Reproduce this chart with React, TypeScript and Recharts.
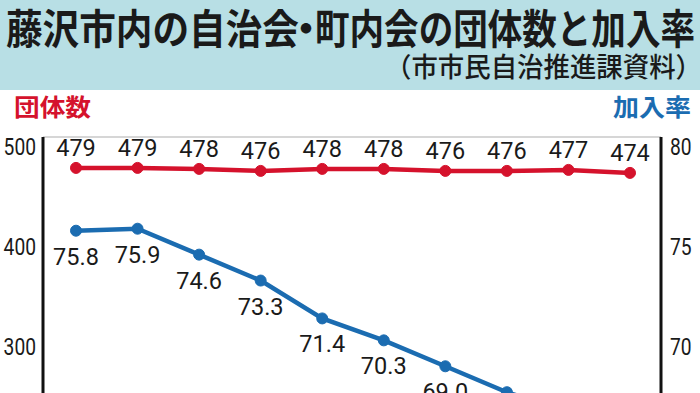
import React from 'react';
import { LineChart, Line, XAxis, YAxis, CartesianGrid } from 'recharts';

const years = ['2012', '2013', '2014', '2015', '2016', '2017', '2018', '2019', '2020', '2021'];
const groupCounts = [479, 479, 478, 476, 478, 478, 476, 476, 477, 474];
const joinRates = [75.8, 75.9, 74.6, 73.3, 71.4, 70.3, 69.0, 67.7, 66.7, 65.9];
const leftTicks = [200, 300, 400, 500];
const rightTicks = [65, 70, 75, 80];

const titleParts = ['藤沢市内の自治会', '・', '町内会の団体数と加入率'];
const subtitle = '（市市民自治推進課資料）';
const leftLabel = '団体数';
const rightLabel = '加入率';

const RED = '#d5122c';
const BLUE = '#1b6cb1';
const NUM_FONT = 'Roboto, "Noto Sans", sans-serif';
const JP_FONT = '"Noto Sans CJK JP", sans-serif';

const data = years.map((y, i) => ({ year: y, count: groupCounts[i], rate: joinRates[i] }));

const AxisTick = (props: any) => {
  const { x, y, payload, anchor } = props;
  const s = String(payload.value);
  return (
    <text
      x={x}
      y={y + 8.5}
      textAnchor={anchor}
      fontSize={23.5}
      fontFamily={NUM_FONT}
      fill="#1a1a1a"
      textLength={s.length * 10.8}
      lengthAdjust="spacingAndGlyphs"
    >
      {s}
    </text>
  );
};

const CountLabel = (props: any) => {
  const { x, y, value } = props;
  return (
    <text x={x} y={y - 12} textAnchor="middle" fontSize={23.5} fontFamily={NUM_FONT} fill="#1a1a1a">
      {value}
    </text>
  );
};

const RateLabel = (props: any) => {
  const { x, y, value } = props;
  return (
    <text x={x} y={y + 34} textAnchor="middle" fontSize={23.5} fontFamily={NUM_FONT} fill="#1a1a1a">
      {Number(value).toFixed(1)}
    </text>
  );
};

export default function App() {
  return (
    <div style={{ position: 'absolute', left: 0, top: 0, width: 700, height: 393, overflow: 'hidden', background: '#fff' }}>
      <LineChart
        width={700}
        height={456}
        data={data}
        margin={{ top: 137, right: 0, bottom: 0, left: 0 }}
      >
        <CartesianGrid horizontal vertical={false} stroke="#c9c9c9" strokeWidth={1.5} />
        <XAxis dataKey="year" hide padding={{ left: 33, right: 31 }} />
        <YAxis
          yAxisId="left"
          orientation="left"
          width={43}
          type="number"
          domain={[190, 510]}
          ticks={leftTicks}
          interval={0}
          allowDataOverflow
          tickLine={false}
          tickSize={0}
          tickMargin={7}
          axisLine={{ stroke: '#111', strokeWidth: 3 }}
          tick={<AxisTick anchor="end" />}
        />
        <YAxis
          yAxisId="right"
          orientation="right"
          width={39}
          type="number"
          domain={[64.5, 80.5]}
          ticks={rightTicks}
          interval={0}
          allowDataOverflow
          tickLine={false}
          tickSize={0}
          tickMargin={9}
          axisLine={{ stroke: '#111', strokeWidth: 3 }}
          tick={<AxisTick anchor="start" />}
        />
        <Line
          yAxisId="right"
          dataKey="rate"
          stroke={BLUE}
          strokeWidth={4.5}
          dot={{ r: 5.5, fill: BLUE, stroke: BLUE, strokeWidth: 1 }}
          isAnimationActive={false}
          label={<RateLabel />}
        />
        <Line
          yAxisId="left"
          dataKey="count"
          stroke={RED}
          strokeWidth={4.5}
          dot={{ r: 5.5, fill: RED, stroke: RED, strokeWidth: 1 }}
          isAnimationActive={false}
          label={<CountLabel />}
        />
      </LineChart>
      <svg
        width={700}
        height={130}
        style={{ position: 'absolute', left: 0, top: 0, pointerEvents: 'none' }}
      >
        <rect x={0} y={0} width={700} height={90} fill="#b8dfe5" />
        <text
          x={6}
          y={44}
          fontSize={41}
          fontWeight={700}
          fontFamily={JP_FONT}
          fill="#1a1a1a"
          textLength={293}
          lengthAdjust="spacingAndGlyphs"
        >
          {titleParts[0]}
        </text>
        <text
          x={306}
          y={44}
          textAnchor="middle"
          fontSize={41}
          fontWeight={700}
          fontFamily={JP_FONT}
          fill="#1a1a1a"
        >
          {titleParts[1]}
        </text>
        <text
          x={315}
          y={44}
          fontSize={41}
          fontWeight={700}
          fontFamily={JP_FONT}
          fill="#1a1a1a"
          textLength={380}
          lengthAdjust="spacingAndGlyphs"
        >
          {titleParts[2]}
        </text>
        <text
          x={702}
          y={77}
          textAnchor="end"
          fontSize={27}
          fontWeight={500}
          fontFamily={JP_FONT}
          fill="#1a1a1a"
          textLength={317}
          lengthAdjust="spacingAndGlyphs"
        >
          {subtitle}
        </text>
        <text
          x={14}
          y={116}
          fontSize={24}
          fontWeight={700}
          fontFamily={JP_FONT}
          fill={RED}
          textLength={77}
          lengthAdjust="spacingAndGlyphs"
        >
          {leftLabel}
        </text>
        <text
          x={691}
          y={116}
          textAnchor="end"
          fontSize={24}
          fontWeight={700}
          fontFamily={JP_FONT}
          fill={BLUE}
          textLength={78}
          lengthAdjust="spacingAndGlyphs"
        >
          {rightLabel}
        </text>
      </svg>
    </div>
  );
}
